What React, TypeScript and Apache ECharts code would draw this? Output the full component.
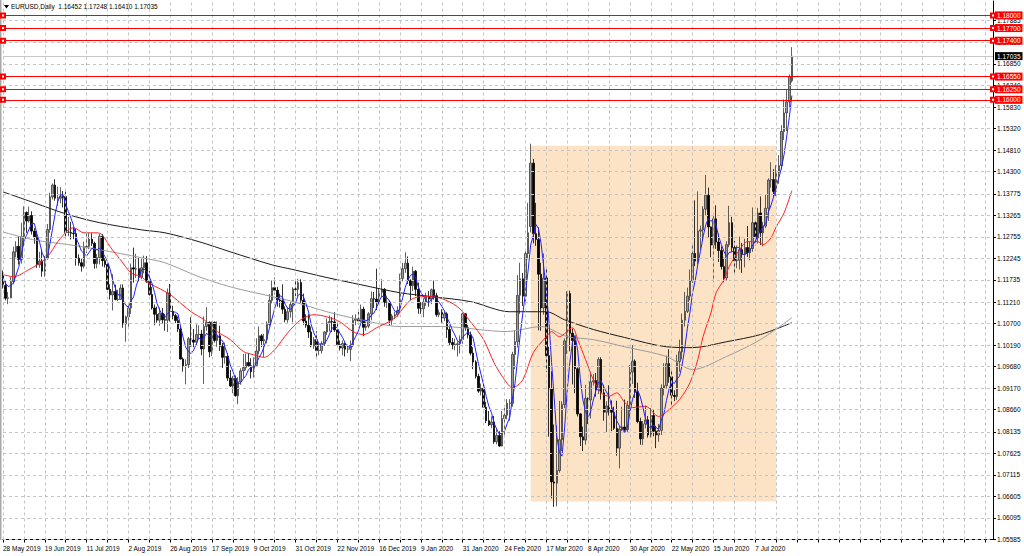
import React, { useEffect, useRef } from "react";
import * as echarts from "echarts";

const tickLabels = [
  "28 May 2019", "19 Jun 2019", "11 Jul 2019", "2 Aug 2019", "26 Aug 2019", "17 Sep 2019",
  "9 Oct 2019", "31 Oct 2019", "22 Nov 2019", "16 Dec 2019", "9 Jan 2020", "31 Jan 2020",
  "24 Feb 2020", "17 Mar 2020", "8 Apr 2020", "30 Apr 2020", "22 May 2020", "15 Jun 2020", "7 Jul 2020",
];

const priceTicks = [
  1.05585, 1.06095, 1.06605, 1.07115, 1.07625, 1.08135, 1.0866, 1.0917, 1.0968, 1.1019, 1.107,
  1.1121, 1.11735, 1.12245, 1.12755, 1.13265, 1.13775, 1.143, 1.1481, 1.1532, 1.1583, 1.1634,
  1.1685, 1.1736, 1.17885,
];

const levels = [1.18, 1.177, 1.174, 1.1655, 1.1625, 1.16];
const lastPrice = 1.17035;
const titleText = "EURUSD,Daily  1.16452 1.17248 1.16410 1.17035";
const zone = { from: 202, to: 296, top: 1.1491, bottom: 1.06485 };
const TOTAL = 380;

// [open, close, low, high]
const candles = [
  [1.1190,1.1160,1.1153,1.1196],[1.1160,1.1130,1.1125,1.1172],[1.1130,1.1131,1.1116,1.1145],[1.1131,1.1169,1.1130,1.1180],
  [1.1169,1.1240,1.1163,1.1252],[1.1240,1.1253,1.1227,1.1265],[1.1253,1.1222,1.1210,1.1276],[1.1222,1.1276,1.1212,1.1309],
  [1.1276,1.1333,1.1253,1.1348],[1.1333,1.1313,1.1285,1.1336],[1.1313,1.1326,1.1309,1.1347],[1.1326,1.1289,1.1281,1.1336],
  [1.1289,1.1274,1.1259,1.1296],[1.1274,1.1209,1.1202,1.1289],[1.1209,1.1218,1.1202,1.1240],[1.1218,1.1194,1.1181,1.1245],
  [1.1194,1.1225,1.1181,1.1230],[1.1225,1.1293,1.1221,1.1306],[1.1293,1.1370,1.1285,1.1380],[1.1370,1.1398,1.1364,1.1402],
  [1.1398,1.1367,1.1361,1.1412],[1.1367,1.1368,1.1349,1.1394],[1.1367,1.1371,1.1355,1.1393],[1.1371,1.1370,1.1345,1.1384],
  [1.1371,1.1286,1.1276,1.1383],[1.1286,1.1287,1.1277,1.1323],[1.1286,1.1284,1.1269,1.1311],[1.1284,1.1283,1.1270,1.1298],
  [1.1283,1.1225,1.1207,1.1295],[1.1225,1.1214,1.1207,1.1234],[1.1214,1.1206,1.1193,1.1225],[1.1206,1.1252,1.1201,1.1264],
  [1.1252,1.1253,1.1237,1.1286],[1.1253,1.1270,1.1246,1.1284],[1.1270,1.1260,1.1254,1.1284],[1.1260,1.1212,1.1200,1.1264],
  [1.1212,1.1226,1.1201,1.1235],[1.1226,1.1277,1.1210,1.1283],[1.1277,1.1219,1.1205,1.1282],[1.1219,1.1210,1.1203,1.1225],
  [1.1210,1.1151,1.1149,1.1217],[1.1151,1.1138,1.1127,1.1163],[1.1138,1.1146,1.1101,1.1187],[1.1146,1.1127,1.1125,1.1162],
  [1.1127,1.1128,1.1123,1.1150],[1.1127,1.1154,1.1126,1.1163],[1.1154,1.1069,1.1060,1.1163],[1.1069,1.1086,1.1027,1.1089],
  [1.1086,1.1107,1.1057,1.1117],[1.1107,1.1202,1.1093,1.1212],[1.1202,1.1199,1.1167,1.1250],[1.1199,1.1200,1.1178,1.1235],
  [1.1200,1.1180,1.1170,1.1225],[1.1180,1.1202,1.1175,1.1225],[1.1202,1.1214,1.1189,1.1231],[1.1214,1.1170,1.1166,1.1230],
  [1.1170,1.1139,1.1136,1.1195],[1.1139,1.1107,1.1103,1.1157],[1.1107,1.1092,1.1066,1.1115],[1.1092,1.1078,1.1072,1.1110],
  [1.1078,1.1094,1.1065,1.1108],[1.1094,1.1079,1.1070,1.1107],[1.1079,1.1078,1.1053,1.1093],[1.1078,1.1143,1.1050,1.1153],
  [1.1143,1.1099,1.1075,1.1164],[1.1099,1.1089,1.1080,1.1112],[1.1089,1.1077,1.1071,1.1093],[1.1077,1.1057,1.1050,1.1087],
  [1.1057,1.0986,1.0985,1.1063],[1.0986,1.0970,1.0956,1.0990],[1.0970,1.0973,1.0926,1.0985],[1.0973,1.1034,1.0965,1.1038],
  [1.1034,1.1031,1.1015,1.1085],[1.1031,1.1026,1.1014,1.1057],[1.1026,1.1044,1.1018,1.1068],[1.1044,1.1045,1.1035,1.1066],
  [1.1045,1.1010,1.0995,1.1055],[1.1010,1.1063,1.0927,1.1087],[1.1063,1.1073,1.1053,1.1109],[1.1073,1.1003,1.0990,1.1075],
  [1.1003,1.1073,1.0993,1.1075],[1.1073,1.1030,1.1025,1.1075],[1.1030,1.1041,1.1015,1.1075],[1.1041,1.1016,1.1005,1.1065],
  [1.1016,1.0990,1.0965,1.1024],[1.0990,1.0992,1.0975,1.1025],[1.0992,1.0941,1.0934,1.1000],[1.0941,1.0922,1.0920,1.0960],
  [1.0922,1.0940,1.0905,1.0946],[1.0940,1.0899,1.0897,1.0947],[1.0899,1.0932,1.0879,1.0943],[1.0932,1.0958,1.0925,1.0964],
  [1.0958,1.0966,1.0941,1.0998],[1.0966,1.0978,1.0959,1.0999],[1.0978,1.0970,1.0968,1.1000],[1.0970,1.0956,1.0940,1.0988],
  [1.0956,1.0971,1.0942,1.0990],[1.0971,1.1005,1.0967,1.1035],[1.1005,1.1041,1.0997,1.1063],[1.1041,1.1029,1.1014,1.1045],
  [1.1029,1.1032,1.0991,1.1046],[1.1032,1.1068,1.1023,1.1075],[1.1068,1.1125,1.1064,1.1140],[1.1125,1.1155,1.1118,1.1172],
  [1.1155,1.1149,1.1139,1.1179],[1.1149,1.1126,1.1110,1.1157],[1.1126,1.1124,1.1108,1.1141],[1.1124,1.1104,1.1093,1.1163],
  [1.1104,1.1079,1.1073,1.1111],[1.1079,1.1098,1.1072,1.1108],[1.1098,1.1115,1.1084,1.1121],[1.1115,1.1152,1.1073,1.1156],
  [1.1152,1.1151,1.1135,1.1175],[1.1151,1.1167,1.1134,1.1176],[1.1167,1.1125,1.1119,1.1175],[1.1125,1.1076,1.1067,1.1141],
  [1.1076,1.1066,1.1060,1.1092],[1.1066,1.1050,1.1036,1.1092],[1.1050,1.1017,1.1014,1.1063],[1.1017,1.1032,1.1010,1.1038],
  [1.1032,1.1006,1.0989,1.1052],[1.1006,1.1007,1.0995,1.1023],[1.1006,1.1023,1.0999,1.1028],[1.1023,1.1050,1.1017,1.1052],
  [1.1050,1.1072,1.1043,1.1082],[1.1072,1.1075,1.1051,1.1089],[1.1075,1.1074,1.1050,1.1085],[1.1074,1.1055,1.1050,1.1097],
  [1.1055,1.1020,1.1015,1.1071],[1.1020,1.1012,1.1006,1.1030],[1.1012,1.1023,1.0995,1.1030],[1.1023,1.1009,1.0992,1.1025],
  [1.1009,1.1010,1.1000,1.1020],[1.1009,1.1018,1.0981,1.1030],[1.1018,1.1078,1.1014,1.1090],[1.1078,1.1081,1.1066,1.1092],
  [1.1081,1.1076,1.1068,1.1098],[1.1076,1.1104,1.1073,1.1115],[1.1104,1.1061,1.1040,1.1110],[1.1061,1.1064,1.1053,1.1075],
  [1.1064,1.1093,1.1059,1.1097],[1.1093,1.1129,1.1078,1.1146],[1.1129,1.1128,1.1107,1.1145],[1.1128,1.1121,1.1102,1.1200],
  [1.1121,1.1144,1.1116,1.1154],[1.1144,1.1151,1.1132,1.1175],[1.1151,1.1120,1.1110,1.1154],[1.1120,1.1121,1.1107,1.1136],
  [1.1120,1.1078,1.1066,1.1125],[1.1078,1.1088,1.1067,1.1093],[1.1088,1.1091,1.1081,1.1097],[1.1091,1.1101,1.1086,1.1111],
  [1.1101,1.1177,1.1095,1.1188],[1.1177,1.1200,1.1170,1.1214],[1.1200,1.1213,1.1190,1.1239],[1.1213,1.1172,1.1164,1.1229],
  [1.1172,1.1160,1.1125,1.1175],[1.1160,1.1194,1.1147,1.1205],[1.1194,1.1151,1.1135,1.1197],[1.1151,1.1106,1.1093,1.1167],
  [1.1106,1.1105,1.1093,1.1121],[1.1105,1.1121,1.1085,1.1130],[1.1121,1.1134,1.1112,1.1143],[1.1134,1.1128,1.1110,1.1147],
  [1.1128,1.1150,1.1116,1.1153],[1.1150,1.1136,1.1127,1.1172],[1.1136,1.1091,1.1086,1.1143],[1.1091,1.1096,1.1085,1.1103],
  [1.1096,1.1083,1.1072,1.1104],[1.1083,1.1093,1.1076,1.1100],[1.1093,1.1056,1.1036,1.1097],[1.1056,1.1025,1.1019,1.1065],
  [1.1025,1.1020,1.1009,1.1036],[1.1020,1.1021,1.1007,1.1034],[1.1020,1.1022,1.0992,1.1028],[1.1022,1.1032,1.0999,1.1042],
  [1.1032,1.1093,1.1022,1.1096],[1.1093,1.1060,1.1053,1.1095],[1.1060,1.1043,1.1035,1.1067],[1.1043,1.1000,1.0995,1.1051],
  [1.1000,1.0979,1.0962,1.1014],[1.0979,1.0945,1.0940,1.0983],[1.0945,1.0910,1.0906,1.0951],[1.0910,1.0917,1.0900,1.0928],
  [1.0917,1.0872,1.0871,1.0935],[1.0872,1.0840,1.0834,1.0885],[1.0840,1.0830,1.0827,1.0863],[1.0830,1.0837,1.0822,1.0850],
  [1.0837,1.0790,1.0785,1.0851],[1.0790,1.0805,1.0784,1.0820],[1.0805,1.0780,1.0778,1.0815],[1.0780,1.0845,1.0779,1.0863],
  [1.0845,1.0853,1.0801,1.0870],[1.0853,1.0881,1.0843,1.0891],[1.0881,1.0882,1.0840,1.0891],[1.0881,1.0997,1.0873,1.1003],
  [1.0997,1.1027,1.0962,1.1054],[1.1027,1.1137,1.1013,1.1185],[1.1137,1.1176,1.1093,1.1214],[1.1176,1.1135,1.1112,1.1190],
  [1.1135,1.1236,1.1122,1.1246],[1.1236,1.1285,1.1222,1.1356],[1.1300,1.1450,1.1286,1.1496],[1.1450,1.1283,1.1260,1.1460],
  [1.1283,1.1269,1.1254,1.1356],[1.1269,1.1187,1.1054,1.1298],[1.1187,1.1107,1.1053,1.1214],[1.1107,1.1178,1.1091,1.1236],
  [1.1178,1.0994,1.0955,1.1200],[1.0994,1.0915,1.0802,1.1015],[1.0915,1.0695,1.0656,1.0957],[1.0695,1.0692,1.0636,1.0831],
  [1.0692,1.0722,1.0637,1.0828],[1.0722,1.0795,1.0717,1.0887],[1.0795,1.0878,1.0768,1.0886],[1.0878,1.1029,1.0870,1.1035],
  [1.1029,1.1141,1.0998,1.1147],[1.1141,1.1047,1.1004,1.1148],[1.1047,1.1030,1.0926,1.1058],[1.1030,1.0963,1.0905,1.1040],
  [1.0963,1.0856,1.0850,1.0966],[1.0856,1.0802,1.0780,1.0858],[1.0802,1.0794,1.0768,1.0826],[1.0794,1.0893,1.0783,1.0925],
  [1.0893,1.0889,1.0832,1.0895],[1.0889,1.0932,1.0845,1.0952],[1.0932,1.0935,1.0923,1.0950],[1.0935,1.0913,1.0897,1.0953],
  [1.0913,1.0985,1.0903,1.0990],[1.0985,1.0906,1.0890,1.0990],[1.0906,1.0860,1.0840,1.0925],[1.0860,1.0875,1.0813,1.0886],
  [1.0875,1.0865,1.0852,1.0924],[1.0865,1.0860,1.0815,1.0888],[1.0860,1.0822,1.0818,1.0873],[1.0822,1.0775,1.0757,1.0887],
  [1.0775,1.0820,1.0727,1.0828],[1.0820,1.0825,1.0815,1.0873],[1.0825,1.0819,1.0814,1.0890],[1.0819,1.0876,1.0812,1.0887],
  [1.0876,1.0955,1.0861,1.0972],[1.0955,1.0981,1.0927,1.1019],[1.0981,1.0908,1.0894,1.0985],[1.0908,1.0838,1.0834,1.0930],
  [1.0838,1.0797,1.0783,1.0847],[1.0797,1.0832,1.0782,1.0839],[1.0832,1.0842,1.0822,1.0876],[1.0842,1.0806,1.0800,1.0851],
  [1.0806,1.0852,1.0800,1.0870],[1.0852,1.0815,1.0803,1.0866],[1.0815,1.0806,1.0775,1.0828],[1.0806,1.0817,1.0790,1.0832],
  [1.0817,1.0917,1.0806,1.0926],[1.0917,1.0923,1.0900,1.0976],[1.0923,1.0975,1.0916,1.0994],[1.0975,1.0944,1.0930,1.1009],
  [1.0944,1.0900,1.0871,1.0958],[1.0900,1.0897,1.0886,1.0912],[1.0897,1.0980,1.0889,1.0996],[1.0980,1.1003,1.0956,1.1032],
  [1.1003,1.1078,1.0985,1.1094],[1.1078,1.1099,1.1063,1.1145],[1.1099,1.1135,1.1095,1.1155],[1.1135,1.1171,1.1125,1.1198],
  [1.1171,1.1236,1.1166,1.1258],[1.1236,1.1218,1.1206,1.1362],[1.1218,1.1289,1.1210,1.1383],[1.1289,1.1292,1.1245,1.1302],
  [1.1292,1.1341,1.1266,1.1348],[1.1341,1.1374,1.1325,1.1422],[1.1374,1.1299,1.1274,1.1392],[1.1299,1.1256,1.1227,1.1300],
  [1.1256,1.1318,1.1168,1.1325],[1.1318,1.1263,1.1247,1.1350],[1.1263,1.1243,1.1216,1.1283],[1.1243,1.1205,1.1198,1.1253],
  [1.1205,1.1178,1.1168,1.1226],[1.1178,1.1257,1.1172,1.1265],[1.1257,1.1309,1.1251,1.1349],[1.1309,1.1250,1.1240,1.1323],
  [1.1250,1.1219,1.1186,1.1266],[1.1219,1.1220,1.1201,1.1255],[1.1220,1.1245,1.1198,1.1276],[1.1245,1.1234,1.1190,1.1261],
  [1.1234,1.1250,1.1203,1.1271],[1.1250,1.1238,1.1228,1.1301],[1.1238,1.1248,1.1220,1.1264],[1.1248,1.1309,1.1240,1.1345],
  [1.1309,1.1273,1.1255,1.1317],[1.1273,1.1332,1.1260,1.1344],[1.1332,1.1285,1.1256,1.1371],[1.1285,1.1301,1.1253,1.1311],
  [1.1301,1.1343,1.1296,1.1375],[1.1343,1.1410,1.1313,1.1414],[1.1410,1.1411,1.1392,1.1452],[1.1411,1.1383,1.1371,1.1436],
  [1.1383,1.1428,1.1372,1.1445],[1.1428,1.1444,1.1401,1.1469],[1.1444,1.1525,1.1435,1.1540],[1.1525,1.1569,1.1505,1.1601],
  [1.1569,1.1595,1.1526,1.1623],[1.1595,1.1655,1.1580,1.1660],[1.16452,1.17035,1.16410,1.17248],
];

// blue fast average, one value per bar
const maFast = [
  1.1178,1.1165,1.1158,1.1160,1.1166,1.1185,1.1203,1.1232,1.1265,1.1279,1.1294,1.1307,1.1307,1.1282,1.1263,1.1237,
  1.1224,1.1228,1.1260,1.1296,1.1331,1.1359,1.1375,1.1375,1.1352,1.1336,1.1320,1.1302,1.1273,1.1258,1.1242,1.1236,
  1.1230,1.1239,1.1248,1.1249,1.1244,1.1249,1.1239,1.1229,1.1217,1.1199,1.1173,1.1154,1.1138,1.1138,1.1125,1.1113,
  1.1109,1.1124,1.1133,1.1159,1.1178,1.1197,1.1199,1.1193,1.1181,1.1166,1.1144,1.1117,1.1102,1.1090,1.1084,1.1094,
  1.1099,1.1098,1.1097,1.1093,1.1062,1.1036,1.1013,1.1004,1.0999,1.1007,1.1022,1.1036,1.1031,1.1038,1.1047,1.1039,
  1.1044,1.1048,1.1044,1.1033,1.1030,1.1014,1.0996,1.0972,1.0957,1.0939,1.0927,1.0930,1.0939,1.0947,1.0961,1.0966,
  1.0968,1.0976,1.0989,1.1000,1.1016,1.1035,1.1059,1.1082,1.1106,1.1125,1.1136,1.1132,1.1116,1.1106,1.1104,1.1110,
  1.1119,1.1137,1.1142,1.1134,1.1117,1.1097,1.1067,1.1048,1.1034,1.1022,1.1017,1.1023,1.1031,1.1045,1.1059,1.1065,
  1.1059,1.1047,1.1037,1.1024,1.1015,1.1014,1.1027,1.1039,1.1052,1.1071,1.1080,1.1077,1.1080,1.1090,1.1095,1.1107,
  1.1123,1.1135,1.1133,1.1131,1.1123,1.1111,1.1099,1.1096,1.1107,1.1131,1.1156,1.1173,1.1184,1.1188,1.1178,1.1157,
  1.1143,1.1135,1.1123,1.1119,1.1128,1.1134,1.1128,1.1120,1.1111,1.1100,1.1084,1.1071,1.1055,1.1043,1.1029,1.1024,
  1.1037,1.1045,1.1050,1.1046,1.1035,1.1005,1.0975,1.0950,1.0925,1.0897,1.0874,1.0859,1.0834,1.0820,1.0808,1.0811,
  1.0815,1.0833,1.0848,1.0891,1.0928,1.0985,1.1044,1.1094,1.1142,1.1194,1.1256,1.1278,1.1305,1.1295,1.1259,1.1205,
  1.1147,1.1076,1.0978,1.0895,1.0804,1.0764,1.0756,1.0823,1.0913,1.0978,1.1025,1.1042,1.1007,1.0940,1.0889,1.0862,
  1.0847,1.0862,1.0889,1.0912,1.0931,1.0934,1.0920,1.0908,1.0898,1.0873,1.0856,1.0839,1.0828,1.0820,1.0812,1.0823,
  1.0859,1.0891,1.0908,1.0912,1.0896,1.0871,1.0843,1.0823,1.0826,1.0829,1.0824,1.0819,1.0841,1.0856,1.0888,1.0915,
  1.0932,1.0928,1.0939,1.0945,1.0972,1.1011,1.1059,1.1097,1.1144,1.1172,1.1210,1.1241,1.1275,1.1303,1.1319,1.1312,
  1.1318,1.1302,1.1276,1.1257,1.1241,1.1229,1.1238,1.1240,1.1243,1.1251,1.1249,1.1234,1.1234,1.1237,1.1243,1.1256,
  1.1264,1.1280,1.1289,1.1300,1.1307,1.1334,1.1350,1.1370,1.1395,1.1415,1.1438,1.1470,1.1512,1.1558,1.1610,
];

// red average, read at points [bar, value]
const maMid = [
  [0,1.1186],[4,1.1181],[10,1.1198],[13,1.1209],[17,1.1228],[21,1.1264],[25,1.1292],[27,1.1297],[31,1.1285],
  [36,1.1285],[38,1.1280],[41,1.1252],[45,1.1221],[49,1.1190],[53,1.1181],[55,1.1169],[62,1.1146],[65,1.1134],
  [72,1.1098],[77,1.1079],[82,1.1051],[87,1.1032],[92,1.1004],[96,1.0996],[100,1.0990],[104,1.1008],[109,1.1048],
  [114,1.1079],[119,1.1091],[124,1.1086],[129,1.1074],[134,1.1051],[138,1.1044],[143,1.1060],[150,1.1083],
  [156,1.1126],[161,1.1134],[167,1.1131],[174,1.1110],[179,1.1074],[184,1.1032],[188,1.0977],[192,1.0937],
  [195,1.0918],[199,1.0937],[203,1.1001],[208,1.1039],[210,1.1051],[213,1.1039],[218,1.1060],[220,1.1032],
  [223,1.0985],[226,1.0937],[229,1.0906],[232,1.0898],[235,1.0906],[238,1.0883],[241,1.0871],[246,1.0874],
  [251,1.0850],[255,1.0866],[259,1.0890],[263,1.0930],[266,1.0985],[268,1.1039],[271,1.1095],[273,1.1143],
  [276,1.1174],[278,1.1205],[282,1.1245],[285,1.1264],[289,1.1264],[291,1.1257],[294,1.1273],[296,1.1299],
  [299,1.1332],[302,1.1385],
];

// gray average
const maSlow = [
  [0,1.1287],[12,1.1268],[25,1.1257],[37,1.1245],[53,1.1226],[62,1.1214],[75,1.1181],[87,1.1157],[103,1.1134],
  [111,1.1122],[124,1.1098],[137,1.1079],[152,1.1063],[168,1.1063],[193,1.1051],[206,1.1063],[216,1.1039],
  [226,1.1032],[238,1.1015],[254,1.0992],[264,1.0961],[277,1.0992],[290,1.1032],[302,1.1084],
];

// black average
const maLong = [
  [0,1.1382],[12,1.1356],[25,1.1328],[37,1.1309],[53,1.1292],[62,1.1285],[75,1.1264],[87,1.1240],[103,1.1209],
  [111,1.1198],[124,1.1179],[137,1.1162],[152,1.1143],[164,1.1134],[179,1.1122],[194,1.1098],[208,1.1098],
  [215,1.1079],[226,1.1056],[238,1.1037],[254,1.1015],[264,1.1013],[277,1.1027],[290,1.1044],[302,1.1072],
];

const FONT = "'Liberation Sans', Arial, sans-serif";
const FS = 6.5;

export default function App() {
  const ref = useRef<HTMLDivElement>(null);

  useEffect(() => {
    if (!ref.current) return;
    const chart = echarts.init(ref.current, undefined, { renderer: "svg" });
    const cats = Array.from({ length: TOTAL }, (_, i) => String(i));
    const vLines: any[] = [];
    for (let i = 0; i < TOTAL; i += 8) vLines.push({ xAxis: i });

    const option: any = {
      animation: false,
      backgroundColor: "#ffffff",
      title: {
        text: titleText,
        left: 11,
        top: 3,
        padding: 0,
        textStyle: { fontSize: FS, fontWeight: "normal", fontFamily: FONT, color: "#000" },
      },
      graphic: [
        { type: "polygon", shape: { points: [[4, 5], [9, 5], [6.5, 8.5]] }, style: { fill: "#000" } },
        { type: "rect", shape: { x: 0, y: 0, width: 1.5, height: 540 }, style: { fill: "#a8a8a8" } },
      ],
      grid: { left: 2, right: 31, top: 1, bottom: 16.5 },
      xAxis: {
        type: "category",
        data: cats,
        boundaryGap: false,
        axisLine: { show: true, onZero: false, lineStyle: { color: "#000", width: 1 } },
        axisTick: { show: true, interval: (i: number) => i % 8 === 0, length: 3, lineStyle: { color: "#000" } },
        axisLabel: {
          interval: (i: number) => i % 16 === 0 && i / 16 < tickLabels.length,
          formatter: (v: string) => {
            const i = parseInt(v, 10);
            return i % 16 === 0 && tickLabels[i / 16] ? tickLabels[i / 16] : "";
          },
          align: "left",
          fontSize: FS,
          fontFamily: FONT,
          color: "#000",
          margin: 5,
          hideOverlap: false,
        },
        splitLine: { show: false },
      },
      yAxis: {
        type: "value",
        position: "right",
        min: 1.05585,
        max: 1.18341,
        axisLine: { show: true, lineStyle: { color: "#000", width: 1 } },
        axisTick: { show: true, length: 3, customValues: priceTicks, lineStyle: { color: "#000" } },
        axisLabel: {
          customValues: priceTicks,
          formatter: (v: number) => v.toFixed(5),
          fontSize: FS,
          fontFamily: FONT,
          color: "#000",
          margin: 4,
        },
        splitLine: { show: false },
      },
      series: [
        {
          type: "line",
          data: [],
          z: 1,
          silent: true,
          markArea: {
            silent: true,
            itemStyle: { color: "#fde3c6" },
            data: [[{ coord: [zone.from, zone.top] }, { coord: [zone.to, zone.bottom] }]],
          },
        },
        {
          type: "line",
          data: [],
          z: 1,
          silent: true,
          markLine: {
            silent: true,
            precision: 5,
            symbol: "none",
            label: { show: false },
            lineStyle: { color: "#c4c4c4", type: [3, 3], width: 1 },
            data: [...priceTicks.map((v) => ({ yAxis: v })), ...vLines],
          },
        },
        {
          type: "candlestick",
          data: candles,
          z: 2,
          barWidth: 2,
          itemStyle: {
            color: "#9a9a9a",
            color0: "#000000",
            borderColor: "#3a3a3a",
            borderColor0: "#000000",
            borderWidth: 0.8,
          },
        },
        {
          type: "line",
          data: maLong,
          z: 3,
          symbol: "none",
          smooth: 0.3,
          lineStyle: { color: "#1a1a1a", width: 1 },
        },
        {
          type: "line",
          data: maSlow,
          z: 3,
          symbol: "none",
          smooth: 0.3,
          lineStyle: { color: "#9c9c9c", width: 1 },
        },
        {
          type: "line",
          data: maMid,
          z: 3,
          symbol: "none",
          smooth: 0.3,
          lineStyle: { color: "#ff2020", width: 1 },
        },
        {
          type: "line",
          data: maFast,
          z: 3,
          symbol: "none",
          lineStyle: { color: "#2020ff", width: 1 },
        },
        {
          type: "line",
          data: [],
          z: 4,
          clip: false,
          silent: true,
          markLine: {
            silent: true,
            precision: 5,
            symbol: "none",
            lineStyle: { color: "#c8c8c8", type: "solid", width: 1 },
            label: {
              position: "end",
              distance: 2,
              formatter: (p: any) => Number(p.value).toFixed(5),
              color: "#fff",
              backgroundColor: "#000",
              fontSize: FS,
              fontFamily: FONT,
              padding: [1, 2, 0, 2],
            },
            data: [{ yAxis: lastPrice }],
          },
        },
        {
          type: "line",
          data: [],
          z: 5,
          clip: false,
          silent: true,
          markLine: {
            silent: true,
            precision: 5,
            symbol: ["emptyRect", "emptyRect"],
            symbolSize: 4,
            lineStyle: { color: "#ff0000", type: "solid", width: 1 },
            label: {
              position: "end",
              distance: 2,
              formatter: (p: any) => Number(p.value).toFixed(5),
              color: "#fff",
              backgroundColor: "#ff0000",
              fontSize: FS,
              fontFamily: FONT,
              padding: [1, 2, 0, 2],
            },
            data: levels.map((v) => ({ yAxis: v })),
          },
        },
      ],
    };
    chart.setOption(option);
    return () => chart.dispose();
  }, []);

  return (
    <div
      ref={ref}
      style={{ position: "absolute", left: 0, top: 0, width: 1024, height: 556, background: "#fff" }}
    />
  );
}
